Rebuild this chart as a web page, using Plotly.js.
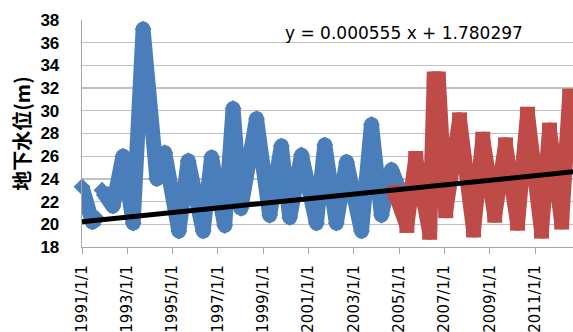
<!DOCTYPE html>
<html>
<head>
<meta charset="utf-8">
<script src="https://cdn.plot.ly/plotly-3.0.1.min.js"></script>
<style>
  html, body { margin: 0; padding: 0; background: #fff; }
  #chart { width: 573px; height: 332px; }
  #chart .scatterlayer .js-line { stroke-linejoin: round; }
</style>
</head>
<body>
<div id="chart"></div>
<script>
// Groundwater level, observation record 1991-2005 (blue)
const blueDates = [
  '1991-01-01', '1991-06-15', '1991-09-01', '1991-10-01',
  '1991-11-20', '1992-05-15', '1992-10-22', '1993-04-05', '1993-09-12',
  '1994-04-22', '1994-08-28', '1995-04-12', '1995-09-09', '1996-05-08',
  '1996-09-20', '1997-04-20', '1997-09-02', '1998-01-05', '1998-09-15',
  '1999-04-15', '1999-10-20', '2000-03-03', '2000-09-09', '2001-05-08',
  '2001-09-20', '2002-03-25', '2002-09-06', '2003-05-05', '2003-10-12',
  '2004-03-21', '2004-08-30', '2005-02-14'
];
const blueLevels = [
  23.3, 20.2, 20.5, null,
  23.0, 21.6, 26.0, 20.1, 37.2,
  24.0, 26.3, 19.4, 25.6, 19.4,
  25.9, 19.9, 30.2, 21.4, 29.3,
  20.8, 26.9, 20.6, 26.1, 20.1,
  27.0, 20.1, 25.5, 19.4, 28.8,
  20.8, 24.8, 22.5
];

// Groundwater level, observation record 2005-2012 (red)
const redDates = [
  '2004-10-25', '2005-05-05', '2005-09-25', '2006-05-08', '2006-07-20',
  '2006-09-25', '2007-01-22', '2007-09-02', '2008-04-15', '2008-09-10',
  '2009-03-22', '2009-09-12', '2010-03-25', '2010-09-02', '2011-04-15',
  '2011-08-22', '2012-03-05', '2012-07-12'
];
const redLevels = [
  22.8, 19.9, 25.8, 19.3, 32.8,
  32.8, 21.2, 29.2, 19.5, 27.5,
  20.8, 27.0, 20.1, 29.7, 19.4,
  28.3, 20.2, 31.3
];

// Linear trend, x = spreadsheet day serial
const trendSlope = 0.000555;
const trendIntercept = 1.780297;
const trendDates = ['1991-01-01', '2012-09-30'];
const trendLabel = 'y = 0.000555 x + 1.780297';

// Axis ticks
const tickDates = ['1991-01-01', '1993-01-01', '1995-01-01', '1997-01-01', '1999-01-01',
  '2001-01-01', '2003-01-01', '2005-01-01', '2007-01-01', '2009-01-01', '2011-01-01'];
const tickLabels = ['1991/1/1', '1993/1/1', '1995/1/1', '1997/1/1', '1999/1/1',
  '2001/1/1', '2003/1/1', '2005/1/1', '2007/1/1', '2009/1/1', '2011/1/1'];
const yTicks = [18, 20, 22, 24, 26, 28, 30, 32, 34, 36, 38];

function daySerial(iso) {
  const p = iso.split('-').map(Number);
  return (Date.UTC(p[0], p[1] - 1, p[2]) - Date.UTC(1899, 11, 30)) / 86400000;
}
const trendLevels = trendDates.map(d => trendSlope * daySerial(d) + trendIntercept);

const BLUE = '#4A7EBB';
const RED = '#BE4B48';

const traces = [
  {
    x: blueDates, y: blueLevels, type: 'scatter', mode: 'lines+markers',
    line: { color: BLUE, width: 15 },
    marker: { symbol: 'diamond', size: 13, color: BLUE },
    cliponaxis: false, connectgaps: false, hoverinfo: 'x+y'
  },
  {
    x: redDates, y: redLevels, type: 'scatter', mode: 'lines+markers',
    line: { color: RED, width: 15 },
    marker: { symbol: 'square', size: 15, color: RED },
    hoverinfo: 'x+y'
  },
  {
    x: trendDates, y: trendLevels, type: 'scatter', mode: 'lines',
    line: { color: '#000000', width: 5 }, hoverinfo: 'skip'
  }
];

const layout = {
  width: 573, height: 332,
  margin: { l: 82, r: 0, t: 20, b: 85 },
  paper_bgcolor: '#ffffff', plot_bgcolor: '#ffffff',
  showlegend: false,
  xaxis: {
    type: 'date',
    range: ['1991-01-01', '2012-09-04'],
    tickvals: tickDates, ticktext: tickLabels,
    tickangle: -90,
    ticks: 'outside', ticklen: 6, tickcolor: '#a6a6a6', tickwidth: 1,
    ticklabelstandoff: 5,
    tickfont: { family: 'DejaVu Sans', size: 15, color: '#000' },
    showgrid: false, zeroline: false,
    showline: true, linecolor: '#a6a6a6', linewidth: 1.3
  },
  yaxis: {
    range: [18, 38],
    tickvals: yTicks,
    ticks: '', ticklabelstandoff: 18,
    tickfont: { family: 'Liberation Sans', size: 17, color: '#000', weight: 'bold' },
    showgrid: true, gridcolor: '#c0c0c0', gridwidth: 1.3,
    zeroline: false,
    showline: true, linecolor: '#a6a6a6', linewidth: 1.3,
    title: {
      text: '<b>地下水位(m)</b>',
      font: { family: 'Noto Sans CJK SC', size: 20, color: '#000' },
      standoff: 4
    }
  },
  annotations: [{
    text: trendLabel, xref: 'paper', yref: 'paper',
    x: (283 - 82) / 491, y: (247 - 33) / 227,
    xanchor: 'left', yanchor: 'middle', showarrow: false,
    font: { family: 'DejaVu Sans', size: 17, color: '#000' }
  }]
};

Plotly.newPlot('chart', traces, layout, { displayModeBar: false, staticPlot: true });
</script>
</body>
</html>
